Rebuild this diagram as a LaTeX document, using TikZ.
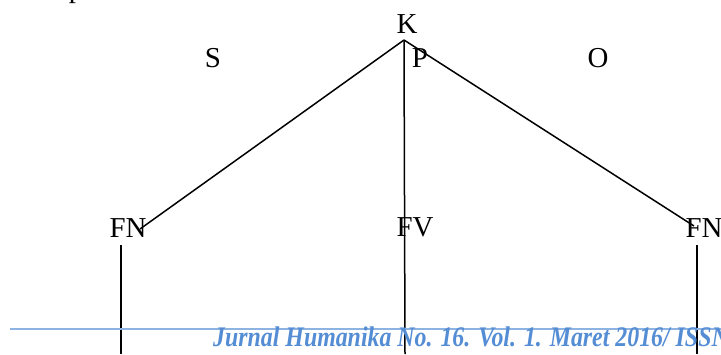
\documentclass[tikz,border=0pt]{standalone}
\usepackage{fontspec}
\setmainfont{Liberation Serif}
\definecolor{footblue}{RGB}{84,141,212}
\definecolor{ruleblue}{RGB}{141,179,226}
\begin{document}
\begin{tikzpicture}[x=1bp,y=-1bp,
  lab/.style={font=\fontsize{29}{34}\selectfont, inner sep=0pt, anchor=base},
  edge/.style={line width=1.5bp, black}]
\useasboundingbox (0,0) rectangle (721,354);
% cut-off glyph from the previous line
\node[lab] (prev) at (76,-2.5) {p};
% labels
\node[lab] (K) at (407,33) {K};
\node[lab] (S) at (213,67) {S};
\node[lab] (P) at (420,67) {P};
\node[lab] (O) at (598,67) {O};
\node[lab] (FNl) at (128,237) {FN};
\node[lab] (FV) at (415,236) {FV};
\node[lab] (FNr) at (704,237) {FN};
% branch points
\coordinate (apex) at (404,40);
\coordinate (lend) at (140,229);
\coordinate (rend) at (694,226);
\coordinate (ltop) at (121,245);
\coordinate (lbot) at (121,354);
\coordinate (mbot) at (405,354);
\coordinate (rtop) at (697,245);
\coordinate (rbot) at (697,354);
\draw[edge] (apex) -- (lend);
\draw[edge] (apex) -- (rend);
\draw[edge] (apex) -- (mbot);
\draw[edge] (ltop) -- (lbot);
\draw[edge] (rtop) -- (rbot);
% footer
\coordinate (rl) at (10,329);
\coordinate (rr) at (721,329);
\draw[ruleblue, line width=1.2bp] (rl) -- (rr);
\node[font=\fontsize{28.5}{32}\selectfont\bfseries\itshape, text=footblue, inner sep=0pt, anchor=base west] (foot) at (213,346) {\scalebox{0.84}[1]{Jurnal Humanika No. 16. Vol. 1. Maret 2016/ ISSN}};
\end{tikzpicture}
\end{document}
